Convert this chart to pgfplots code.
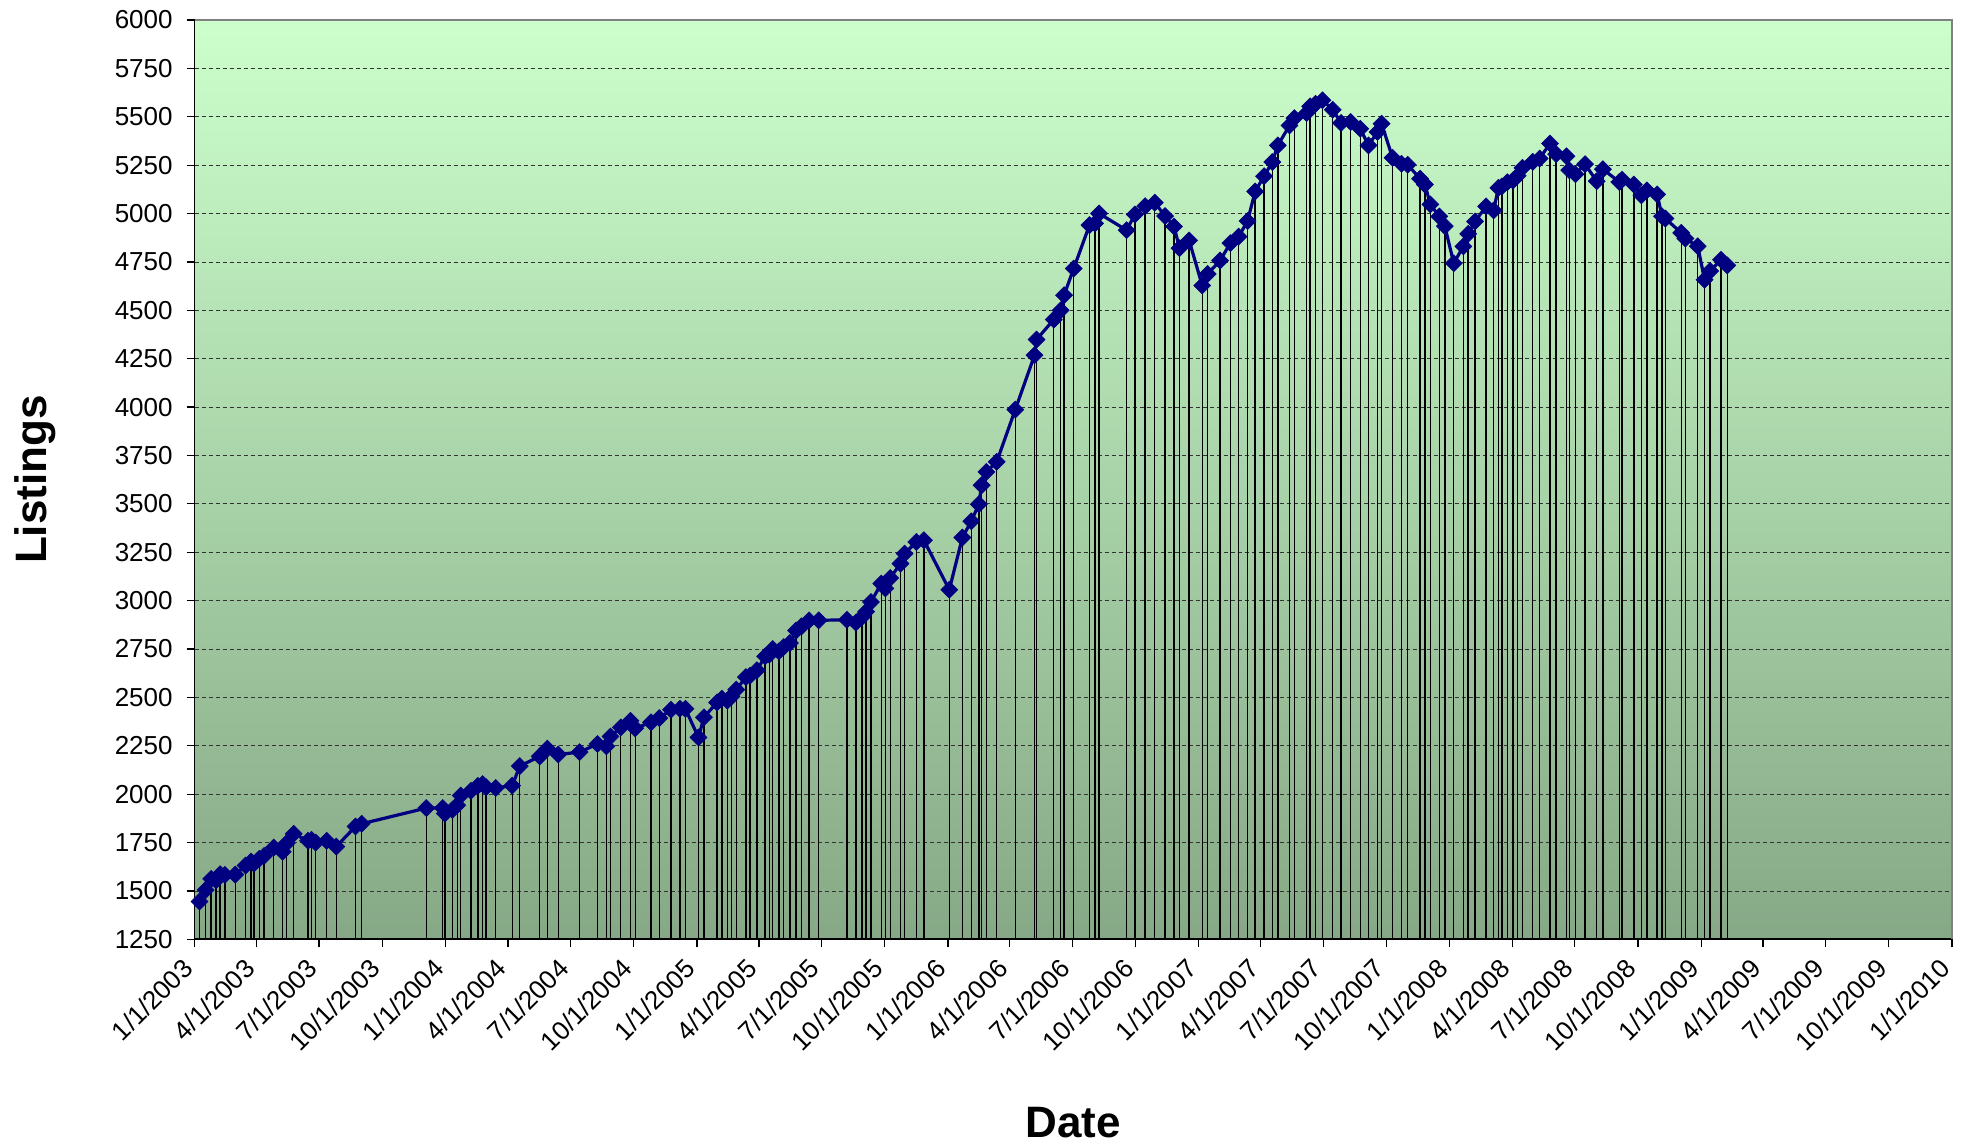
\documentclass[border=0pt]{standalone}
\usepackage{pgfplots}
\usepackage{pgfplotstable}
\pgfplotsset{compat=1.18}
\usepackage{fontspec}
\setmainfont{Liberation Sans}
\definecolor{bgtop}{RGB}{204,255,204}
\definecolor{bgbot}{RGB}{134,168,134}
\definecolor{navyline}{RGB}{0,0,128}
\pgfplotstableread{
day val
7 1445
16 1505
24 1562
31 1555
37 1586
44 1583
59 1584
74 1631
82 1652
86 1641
94 1666
101 1681
115 1724
128 1702
134 1747
144 1795
165 1759
170 1764
176 1750
192 1759
206 1729
234 1833
243 1847
337 1928
361 1928
364 1900
375 1919
382 1943
387 1993
402 2017
412 2043
419 2052
424 2036
438 2032
462 2044
473 2145
502 2195
513 2235
529 2205
560 2217
586 2259
599 2247
605 2298
620 2345
634 2379
641 2340
664 2371
676 2393
693 2436
706 2441
714 2441
733 2293
741 2397
760 2474
767 2493
775 2483
781 2505
788 2540
802 2605
808 2612
818 2640
830 2712
836 2721
841 2750
850 2738
857 2760
866 2781
875 2845
883 2867
894 2898
908 2898
949 2901
962 2886
971 2915
977 2943
984 2993
999 3088
1005 3063
1012 3117
1027 3191
1033 3243
1050 3303
1061 3312
1098 3056
1117 3326
1130 3410
1141 3498
1145 3596
1152 3665
1167 3717
1194 3987
1222 4268
1225 4349
1250 4452
1260 4500
1265 4578
1279 4716
1302 4940
1310 4949
1316 5000
1356 4914
1368 4995
1383 5038
1397 5056
1412 4987
1425 4933
1433 4821
1447 4861
1466 4628
1474 4688
1492 4757
1507 4847
1519 4881
1532 4961
1543 5114
1556 5193
1568 5266
1576 5352
1593 5455
1600 5493
1618 5519
1623 5554
1631 5567
1641 5585
1656 5536
1668 5468
1682 5473
1696 5438
1708 5352
1721 5421
1727 5464
1743 5288
1756 5257
1765 5252
1783 5180
1790 5150
1798 5047
1811 4985
1819 4935
1832 4743
1846 4830
1853 4895
1863 4959
1879 5037
1890 5016
1897 5133
1902 5140
1910 5162
1918 5170
1925 5195
1932 5236
1947 5267
1957 5284
1972 5362
1981 5307
1996 5296
2000 5224
2009 5203
2023 5255
2040 5167
2049 5229
2073 5163
2077 5175
2094 5150
2105 5094
2113 5120
2128 5099
2135 4986
2140 4974
2163 4900
2169 4871
2187 4831
2197 4658
2205 4703
2221 4761
2230 4732
}\listings
\begin{document}
\begin{tikzpicture}
\useasboundingbox (-97.35pt,-102.35pt) rectangle (885.15pt,469.65pt);
\begin{axis}[
  at={(0pt,0pt)}, anchor=south west,
  scale only axis, width=878.65pt, height=459.65pt,
  xmin=0, xmax=2557, ymin=1250, ymax=6000,
  axis background/.style={top color=bgtop, bottom color=bgbot},
  axis x line*=bottom, axis y line*=left,
  axis line style={black, line width=0.8pt},
  tick align=outside, major tick length=4pt,
  tick style={black, line width=0.6pt},
  xtick={0,90,181,273,365,456,547,639,731,821,912,1004,1096,1186,1277,1369,1461,1551,1642,1734,1826,1917,2008,2100,2192,2282,2373,2465,2557},
  xticklabels={1/1/2003,4/1/2003,7/1/2003,10/1/2003,1/1/2004,4/1/2004,7/1/2004,10/1/2004,1/1/2005,4/1/2005,7/1/2005,10/1/2005,1/1/2006,4/1/2006,7/1/2006,10/1/2006,1/1/2007,4/1/2007,7/1/2007,10/1/2007,1/1/2008,4/1/2008,7/1/2008,10/1/2008,1/1/2009,4/1/2009,7/1/2009,10/1/2009,1/1/2010},
  ytick={1250,1500,...,6000},
  ymajorgrids,
  grid style={black!80, dash pattern=on 2pt off 1.5pt, line width=0.4pt},
  tick label style={font=\fontsize{13}{15}\selectfont},
  /pgf/number format/assume math mode=true,
  y tick label style={/pgf/number format/1000 sep={}, anchor=east, inner sep=0pt},
  x tick label style={rotate=45, anchor=base east, inner sep=0pt},
  xticklabel shift=11.5pt, yticklabel shift=6.85pt,
  xlabel={Date}, ylabel={Listings},
  label style={font=\fontsize{22}{26}\selectfont\bfseries},
  xlabel style={at={([yshift=-98.9pt]axis description cs:0.5,0)}, anchor=base},
  ylabel style={at={([xshift=-74pt]axis description cs:0,0.5)}, anchor=base},
  clip mode=individual,
]
\addplot[ycomb, black, line width=0.7pt, no markers, forget plot] table[x=day, y=val] {\listings};
\addplot[navyline, line width=1.6pt, mark=square*, mark size=3pt,
  mark options={rotate=45, fill=navyline, draw=navyline, line width=0.3pt, solid}]
  table[x=day, y=val] {\listings};
\draw[gray, line width=1pt] (rel axis cs:0,1) -- (rel axis cs:1,1) -- (rel axis cs:1,0);
\end{axis}
\end{tikzpicture}
\end{document}
